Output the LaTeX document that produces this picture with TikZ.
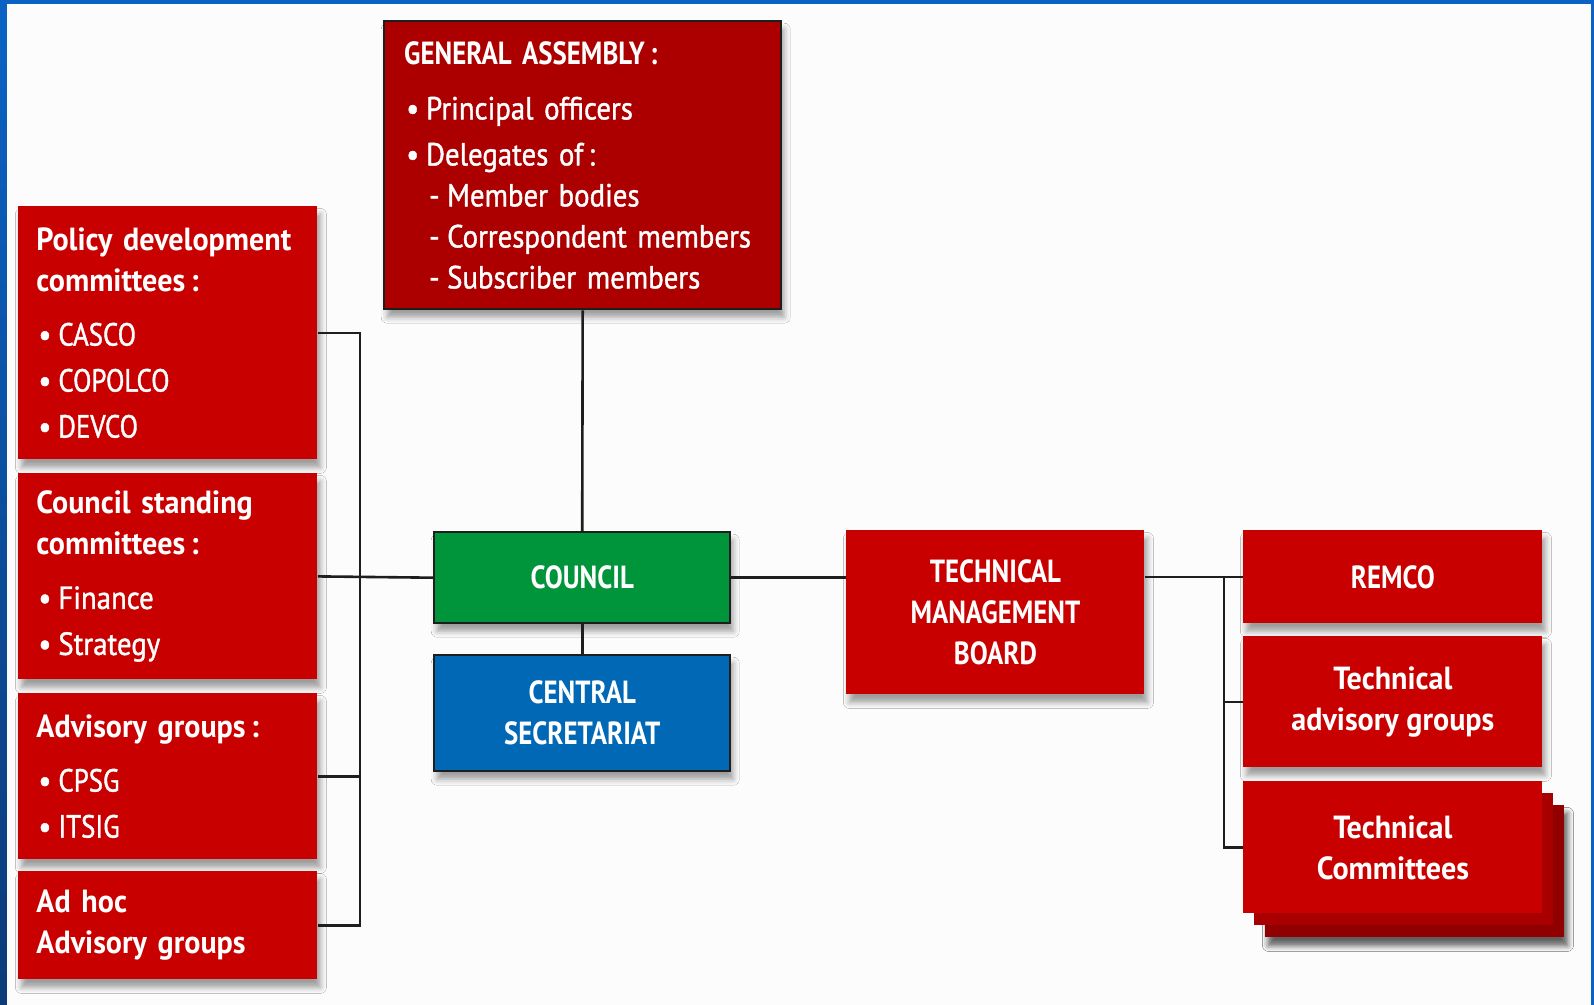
\documentclass[tikz,border=0pt]{standalone}
\usepackage{fontspec}
\setmainfont{PT Sans}[FakeStretch=0.9]
\newfontfamily\itemfont{PT Sans}[FakeStretch=0.9,FakeBold=1.2]
\newfontfamily\capitemfont{PT Sans}[FakeStretch=0.84,FakeBold=1.2]
\newfontfamily\headfont{PT Sans}[FakeStretch=0.94]
\newfontfamily\capsfont{PT Sans}[FakeStretch=0.84]
\usetikzlibrary{shadows,shadows.blur}
\definecolor{slideblue}{HTML}{0A63C4}
\definecolor{slidenavy}{HTML}{0B3B78}
\definecolor{boxred}{HTML}{C80000}
\definecolor{gared}{HTML}{AC0000}
\definecolor{stackmid}{HTML}{A80000}
\definecolor{stackdark}{HTML}{900000}
\definecolor{councilgreen}{HTML}{00953A}
\definecolor{secblue}{HTML}{0068B5}
\definecolor{wire}{HTML}{1E1E1E}
\newcommand{\boxfont}{\fontsize{16pt}{20.5pt}\selectfont}
\newcommand{\bul}{\hspace*{1pt}\makebox[10pt][l]{\textbullet}}
\newcommand{\dsh}{\hspace*{12.5pt}\makebox[9pt][l]{-}}
\newcommand{\head}[1]{{\headfont\bfseries #1}}
\newcommand{\capitem}[1]{\bul{\capitemfont #1}}

\begin{document}
\begin{tikzpicture}[x=0.5pt,y=-0.5pt,
	box/.style={anchor=north west,inner ysep=0pt,font=\boxfont,text=white,fill=boxred,
		blur shadow={shadow xshift=1.5pt,shadow yshift=-4pt,shadow blur radius=3pt,shadow opacity=38}},
	listbox/.style={box,minimum width=149.5pt,inner xsep=9pt,text width=131.5pt,align=left,font=\boxfont\itemfont},
	midbox/.style={box,inner xsep=0pt,align=center,font=\boxfont\headfont\bfseries},
	capsbox/.style={midbox,font=\boxfont\capsfont\bfseries},
	framed/.style={draw=wire,line width=1.2pt},
	link/.style={draw=wire,line width=1.3pt}]
	% slide frame
	\fill[slideblue] (0,0) rectangle (1594,1005);
	\shade[top color=slideblue,bottom color=slidenavy] (0,0) rectangle (7,1005);
	\fill[white!99!black] (7,4) rectangle (1591,1005);
	\useasboundingbox (0,0) rectangle (1594,1005);
	% general assembly
	\draw (383,20) node (ga) [box,framed,fill=gared,minimum width=198.5pt,minimum height=144pt,inner xsep=10pt,text width=178.5pt,align=left,font=\boxfont\itemfont]
		{{\capsfont\bfseries GENERAL ASSEMBLY\,:}\\[7pt]
		\bul Principal officers\\[2.5pt]
		\bul Delegates of\,:\\
		\dsh Member bodies\\
		\dsh Correspondent members\\
		\dsh Subscriber members};
	% left column
	\draw (18,206) node (policy) [listbox,minimum height=126.5pt]
		{\head{Policy development}\\ \head{committees\,:}\\[6.5pt]
		\capitem{CASCO}\\[2.5pt]
		\capitem{COPOLCO}\\[2.5pt]
		\capitem{DEVCO}};
	\draw (18,473) node (standing) [listbox,minimum height=103pt]
		{\head{Council standing}\\ \head{committees\,:}\\[6.5pt]
		\bul Finance\\[2.5pt]
		\bul Strategy};
	\draw (18,693) node (advisory) [listbox,minimum height=83pt]
		{\head{Advisory groups\,:}\\[6.5pt]
		\capitem{CPSG}\\[2.5pt]
		\capitem{ITSIG}};
	\draw (18,871) node (adhoc) [listbox,minimum height=54pt]
		{\head{Ad hoc}\\ \head{Advisory groups}};
	% middle
	\draw (433,531) node (council) [capsbox,framed,fill=councilgreen,minimum width=148pt,minimum height=45.5pt] {COUNCIL};
	\draw (433,654) node (secretariat) [capsbox,framed,fill=secblue,minimum width=148pt,minimum height=58pt] {CENTRAL\\ SECRETARIAT};
	\draw (846,530) node (tmb) [capsbox,minimum width=149pt,minimum height=82pt] {TECHNICAL\\ MANAGEMENT\\ BOARD};
	% right column
	\draw (1243,530) node (remco) [capsbox,minimum width=149.5pt,minimum height=46.5pt] {REMCO};
	\draw (1243,636) node (tag) [midbox,minimum width=149.5pt,minimum height=65.5pt] {Technical\\ advisory groups};
	\draw (1243,781) node (tc) [midbox,minimum width=149.5pt,minimum height=66pt,
		blur shadow={shadow xshift=12.5pt,shadow yshift=-16pt,shadow blur radius=3pt,shadow opacity=38},
		general shadow={fill=stackdark,opacity=1,shadow xshift=11pt,shadow yshift=-12pt},
		general shadow={fill=stackmid,opacity=1,shadow xshift=5.5pt,shadow yshift=-6pt}] {Technical\\ Committees};
	% connectors
	\coordinate (lbus) at (360,0);
	\coordinate (rbus) at (1224,0);
	\draw[link] (policy.east) -- (policy.east -| lbus) -- (adhoc.east -| lbus) -- (adhoc.east);
	\draw[link] (standing.east) -- (council.west);
	\draw[link] (advisory.east) -- (advisory.east -| lbus);
	\draw[link] (ga.south) -- (council.north);
	\draw[link] (council.south) -- (secretariat.north);
	\draw[link] (council.east) -- (council.east -| tmb.west);
	\draw[link] (remco.west -| tmb.east) -- (remco.west);
	\draw[link] (remco.west -| rbus) -- (tc.west -| rbus) -- (tc.west);
	\draw[link] (tag.west -| rbus) -- (tag.west);
\end{tikzpicture}
\end{document}
